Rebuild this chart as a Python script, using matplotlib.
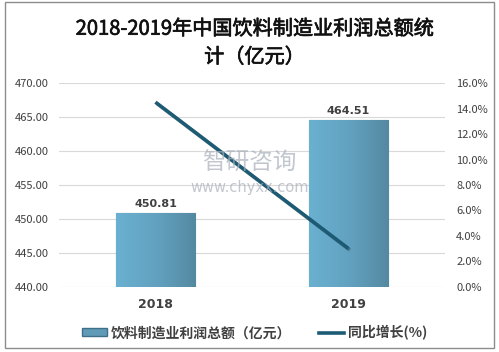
import numpy as np
import matplotlib
matplotlib.use('Agg')
import matplotlib.pyplot as plt
from matplotlib.patches import Rectangle, Patch
from matplotlib.lines import Line2D
import matplotlib.patheffects as pe

plt.rcParams['font.family'] = ['Noto Sans CJK SC', 'DejaVu Sans']

years = ['2018', '2019']
profit = [450.81, 464.51]
growth = [14.5, 3.0]
left_ticks = [440, 445, 450, 455, 460, 465, 470]
right_ticks = [0, 2, 4, 6, 8, 10, 12, 14, 16]

title = '2018-2019年中国饮料制造业利润总额统\n计（亿元）'
bar_label = '饮料制造业利润总额（亿元）'
line_label = '同比增长(%)'

fig = plt.figure(figsize=(4.99, 3.52), dpi=100)
fig.patches.append(Rectangle((0.01, 0.012), 0.98, 0.982, transform=fig.transFigure,
                             fill=False, edgecolor='#8c8c8c', lw=1.0))

ax = fig.add_axes([0.118, 0.185, 0.774, 0.579])
x = np.arange(len(years))

bars = ax.bar(x, profit, width=0.41, color='#64a6c4', edgecolor='#3f6f88', lw=0.8, zorder=2)
ax.set_ylim(440, 470)
ax.set_xlim(-0.5, 1.5)

# gradient fill for the bars
grad = np.linspace(0, 1, 64).reshape(1, -1)
cmap = matplotlib.colors.LinearSegmentedColormap.from_list('b', ['#6ab0d0', '#62a2c0', '#5589a2'])
for b in bars:
    x0 = b.get_x()
    im = ax.imshow(grad, cmap=cmap, aspect='auto', zorder=2.1,
                   extent=[x0, x0 + b.get_width(), 440, b.get_height()])
    im.set_clip_path(b)

for xi, v in zip(x, profit):
    ax.text(xi, v + 0.7, f'{v:.2f}', ha='center', va='bottom', fontsize=8,
            color='#404040', fontweight='bold', family='DejaVu Sans')

ax.set_yticks(left_ticks)
ax.set_yticklabels([f'{t:.2f}' for t in left_ticks])
ax.yaxis.grid(True, color='#d9d9d9', lw=0.8, zorder=0)
ax.set_axisbelow(True)
ax.tick_params(axis='y', length=0, labelsize=8, labelcolor='#404040', pad=7)
ax.set_xticks(x)
ax.set_xticklabels(years, fontweight='bold', fontsize=9, color='#404040', family='DejaVu Sans')
ax.tick_params(axis='x', length=0, pad=8)
for s in ax.spines.values():
    s.set_visible(False)

ax2 = ax.twinx()
ax2.plot(x, growth, color='#1d5b74', lw=2.6, solid_capstyle='butt', zorder=5,
         path_effects=[pe.SimpleLineShadow(offset=(1, -1), alpha=0.25), pe.Normal()])
ax2.set_ylim(0, 16)
ax2.set_yticks(right_ticks)
ax2.set_yticklabels([f'{t:.1f}%' for t in right_ticks])
ax2.tick_params(axis='y', length=0, labelsize=8, labelcolor='#404040', pad=8)
for s in ax2.spines.values():
    s.set_visible(False)

# watermark
fig.text(0.5, 0.535, '智研咨询', fontsize=17, color='#a9b0bb', alpha=0.7, ha='center', va='center')
fig.text(0.5, 0.468, 'www.chyxx.com', fontsize=10.5, color='#a9b0bb', alpha=0.7, ha='center', va='center',
         family='DejaVu Sans')

fig.text(0.51, 0.877, title, ha='center', va='center', fontsize=14.5, fontweight='normal',
         color='#111111', linespacing=1.45,
         path_effects=[pe.withStroke(linewidth=0.5, foreground='#111111')])

# legend
handles = [Patch(facecolor='#5f9bb6', edgecolor='#3f6f88'),
           Line2D([0], [0], color='#1d5b74', lw=2.6)]
leg = fig.legend(handles, [bar_label, line_label], loc='center', bbox_to_anchor=(0.51, 0.055),
                 ncol=2, frameon=False, fontsize=10, handlelength=1.8, handleheight=0.55,
                 columnspacing=2.0, handletextpad=0.3)
for t in leg.get_texts():
    t.set_fontweight('bold')
    t.set_color('#404040')

fig.savefig('out.png', dpi=100)
